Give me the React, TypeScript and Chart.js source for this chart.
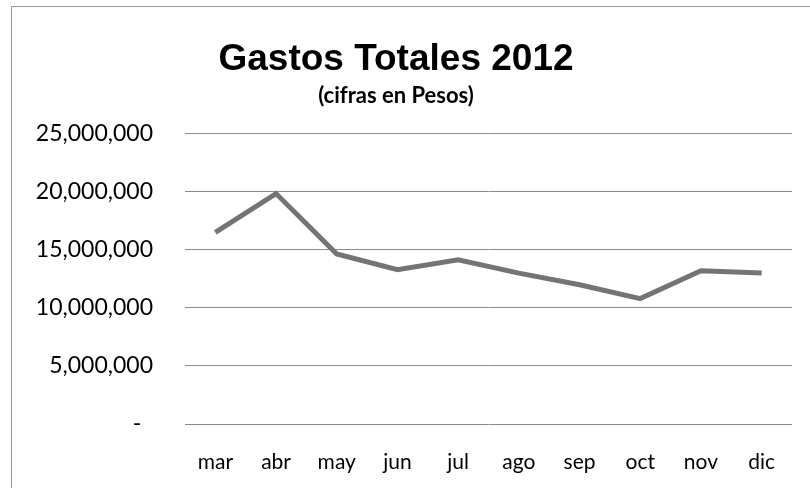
import React, { useEffect, useRef } from "react";
import { Chart, registerables } from "chart.js";

Chart.register(...registerables);

const months = ["mar", "abr", "may", "jun", "jul", "ago", "sep", "oct", "nov", "dic"];
const gastos = [16500000, 19850000, 14650000, 13300000, 14150000, 13000000, 12000000, 10800000, 13200000, 13000000];
const titleText = "Gastos Totales 2012";
const subtitleText = "(cifras en Pesos)";
const yMax = 25000000;
const yStep = 5000000;

function fmt(v: number): string {
  if (v === 0) return "-  ";
  return v.toLocaleString("en-US");
}

const frame = {
  id: "frame",
  beforeDraw(chart: any) {
    const ctx = chart.ctx;
    ctx.save();
    ctx.fillStyle = "#ffffff";
    ctx.fillRect(0, 0, chart.width, chart.height);
    ctx.fillStyle = "#9a9a9a";
    ctx.fillRect(11, 6, 1, chart.height - 6);
    ctx.fillRect(11, 6, chart.width - 11, 1);
    ctx.restore();
  },
};

export default function App() {
  const ref = useRef<HTMLCanvasElement | null>(null);
  useEffect(() => {
    document.documentElement.style.overflow = "hidden";
    document.body.style.margin = "0";
    document.body.style.overflow = "hidden";
    if (!ref.current) return;
    const chart = new Chart(ref.current, {
      type: "line",
      data: {
        labels: months,
        datasets: [
          {
            data: gastos,
            borderColor: "#747474",
            borderWidth: 5,
            pointRadius: 0,
            tension: 0,
            fill: false,
          },
        ],
      },
      plugins: [frame],
      options: {
        animation: false,
        responsive: false,
        layout: { padding: { left: 0, right: 18, top: 0, bottom: 0 } },
        plugins: {
          legend: { display: false },
          tooltip: { enabled: false },
          title: {
            display: true,
            text: titleText,
            color: "#000",
            font: { family: "Liberation Sans", size: 37, weight: "bold" },
            padding: { top: 38, bottom: 0 },
          },
          subtitle: {
            display: true,
            text: subtitleText,
            color: "#000",
            font: { family: "Lato", size: 22, weight: "bold" },
            padding: { top: 0, bottom: 25 },
          },
        },
        scales: {
          x: {
            offset: true,
            afterFit: (scale: any) => {
              scale.height = 64;
            },
            grid: { display: false, drawTicks: false, drawOnChartArea: false },
            border: { display: false },
            ticks: {
              color: "#000",
              font: { family: "Lato", size: 21 },
              padding: 26,
              maxRotation: 0,
              autoSkip: false,
            },
          },
          y: {
            min: 0,
            max: yMax,
            afterFit: (scale: any) => {
              scale.width = 185;
            },
            grid: { color: "#8a8a8a", lineWidth: 1, drawTicks: false },
            border: { display: false },
            ticks: {
              stepSize: yStep,
              color: "#000",
              font: { family: "Lato", size: 23 },
              padding: 32,
              callback: (v: any) => fmt(Number(v)),
            },
          },
        },
      },
    });
    return () => chart.destroy();
  }, []);
  return (
    <div style={{ position: "fixed", left: 0, top: 0, width: 810, height: 488, background: "#fff", overflow: "hidden" }}>
      <canvas ref={ref} width={810} height={488} style={{ position: "absolute", left: 0, top: 0, display: "block" }} />
    </div>
  );
}
